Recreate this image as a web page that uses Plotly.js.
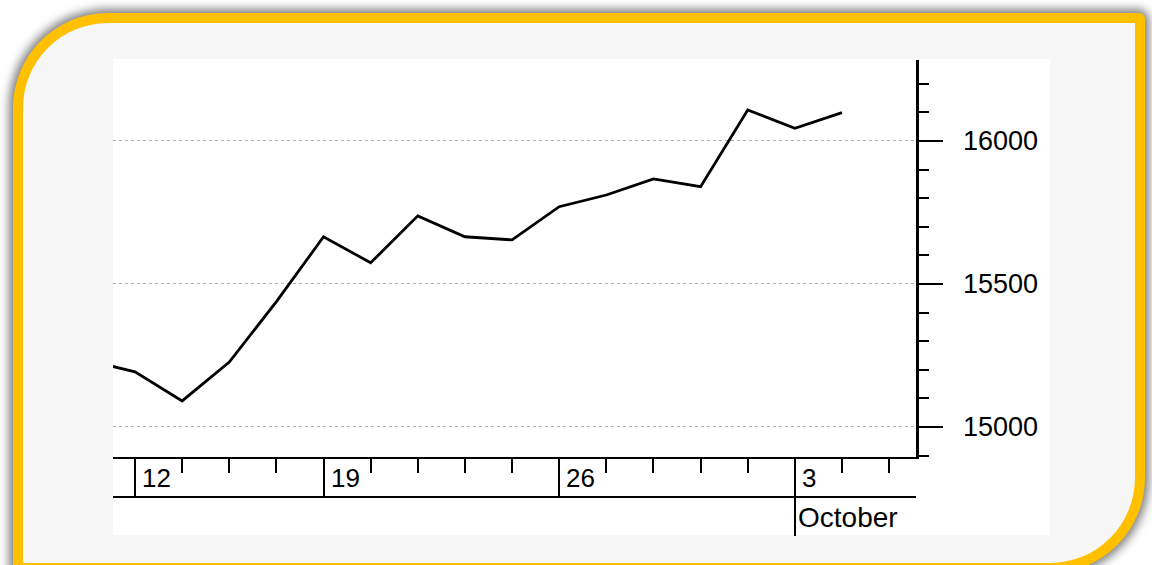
<!DOCTYPE html>
<html>
<head>
<meta charset="utf-8">
<script src="https://cdn.plot.ly/plotly-3.0.1.min.js"></script>
<style>
  html, body { margin: 0; padding: 0; background: #ffffff; width: 1152px; height: 565px; overflow: hidden; }
  #frame {
    position: absolute; left: 13px; top: 13px; width: 1112px; height: 540px;
    border: 10px solid #FFC000; background: #f7f7f7;
    border-radius: 95px 6px 95px 6px;
    box-shadow: 0 0 10px 4px rgba(0,0,0,0.5);
  }
  #panel { position: absolute; left: 113px; top: 59px; width: 937px; height: 476px; background: #ffffff; }
  #chart { position: absolute; left: 0; top: 0; width: 1152px; height: 565px; }
</style>
</head>
<body>
<div id="frame"></div>
<div id="panel"></div>
<div id="chart"></div>
<script>
// Trading days shown on the axis (the first one is partly off the left edge)
const dates = ['Sep 9','Sep 12','Sep 13','Sep 14','Sep 15','Sep 19','Sep 20','Sep 21','Sep 22','Sep 23',
               'Sep 26','Sep 27','Sep 28','Sep 29','Sep 30','Oct 3','Oct 4','Oct 5'];
// Closing values
const values = [15232, 15193, 15091, 15227, 15438, 15665, 15574, 15738, 15665, 15654,
                15770, 15811, 15867, 15840, 16108, 16044, 16099];
// Week labels on the upper axis row
const weekDays = ['Sep 12','Sep 19','Sep 26','Oct 3'];
const weekLabels = ['12','19','26','3'];
// Month label on the lower axis row
const monthDay = 'Oct 3';
const monthLabel = 'October';
// Value axis
const yTicks = [15000, 15500, 16000];
const yTickText = ['15000','15500','16000'];
const yMinorTicks = [14900, 15100, 15200, 15300, 15400, 15600, 15700, 15800, 15900, 16100, 16200];

const pos = d => dates.indexOf(d);
const xAll = dates.map((d, i) => i);
const xData = values.map((v, i) => i);
const xRange = [pos('Sep 12') - 0.467, pos('Sep 12') + 16.57];
const yRange = [14895, 16283];

const FONT = 'Liberation Sans, Arial, sans-serif';

const trace = {
  x: xData, y: values, type: 'scatter', mode: 'lines',
  line: { color: '#000000', width: 2.8 },
  hoverinfo: 'skip', showlegend: false, cliponaxis: true
};

const annotations = weekDays.map((d, i) => ({
  x: pos(d), xref: 'x', y: -0.053, yref: 'paper',
  text: weekLabels[i], showarrow: false, xanchor: 'left', yanchor: 'middle', xshift: 5,
  font: { family: FONT, size: 26, color: '#000000' }
}));
annotations.push({
  x: pos(monthDay), xref: 'x', y: -0.152, yref: 'paper',
  text: monthLabel, showarrow: false, xanchor: 'left', yanchor: 'middle', xshift: 1,
  font: { family: FONT, size: 28, color: '#000000' }
});

const layout = {
  width: 1152, height: 565,
  margin: { l: 113, r: 236, t: 60, b: 108, pad: 0 },
  paper_bgcolor: 'rgba(0,0,0,0)', plot_bgcolor: 'rgba(0,0,0,0)',
  showlegend: false,
  xaxis: {
    type: 'linear', range: xRange, fixedrange: true,
    tickmode: 'array', tickvals: xAll, ticks: 'outside', ticklen: 14, tickwidth: 2, tickcolor: '#000',
    showticklabels: false, showgrid: false, zeroline: false,
    showline: true, linecolor: '#000', linewidth: 2
  },
  xaxis2: {
    type: 'linear', range: xRange, overlaying: 'x', anchor: 'y', side: 'bottom', fixedrange: true,
    tickmode: 'array', tickvals: weekDays.filter(d => d !== monthDay).map(pos),
    ticks: 'outside', ticklen: 40, tickwidth: 2, tickcolor: '#000',
    showticklabels: false, showgrid: false, zeroline: false, showline: false
  },
  xaxis3: {
    type: 'linear', range: xRange, overlaying: 'x', anchor: 'y', side: 'bottom', fixedrange: true,
    tickmode: 'array', tickvals: [pos(monthDay)],
    ticks: 'outside', ticklen: 78, tickwidth: 2, tickcolor: '#000',
    showticklabels: false, showgrid: false, zeroline: false, showline: false
  },
  yaxis: {
    side: 'right', range: yRange, fixedrange: true,
    tickmode: 'array', tickvals: yTicks, ticktext: yTickText,
    ticks: 'outside', ticklen: 24, tickwidth: 2.5, tickcolor: '#000',
    ticklabelstandoff: 15,
    tickfont: { family: FONT, size: 27, color: '#000' },
    showgrid: true, gridcolor: '#b4b4b4', gridwidth: 1, griddash: 'dot',
    zeroline: false, showline: true, linecolor: '#000', linewidth: 2.5
  },
  yaxis2: {
    side: 'right', range: yRange, overlaying: 'y', anchor: 'x', fixedrange: true,
    tickmode: 'array', tickvals: yMinorTicks,
    ticks: 'outside', ticklen: 12, tickwidth: 2, tickcolor: '#000',
    showticklabels: false, showgrid: false, zeroline: false, showline: false
  },
  shapes: [
    { type: 'line', xref: 'paper', yref: 'paper', x0: 0, x1: 1, y0: -0.1008, y1: -0.1008,
      line: { color: '#000', width: 2 } }
  ],
  annotations: annotations
};

const traces = [
  trace,
  { x: [], y: [], xaxis: 'x2', yaxis: 'y', type: 'scatter', showlegend: false, hoverinfo: 'skip' },
  { x: [], y: [], xaxis: 'x3', yaxis: 'y', type: 'scatter', showlegend: false, hoverinfo: 'skip' },
  { x: [], y: [], xaxis: 'x', yaxis: 'y2', type: 'scatter', showlegend: false, hoverinfo: 'skip' }
];

Plotly.newPlot('chart', traces, layout, { displayModeBar: false, staticPlot: true });
</script>
</body>
</html>
